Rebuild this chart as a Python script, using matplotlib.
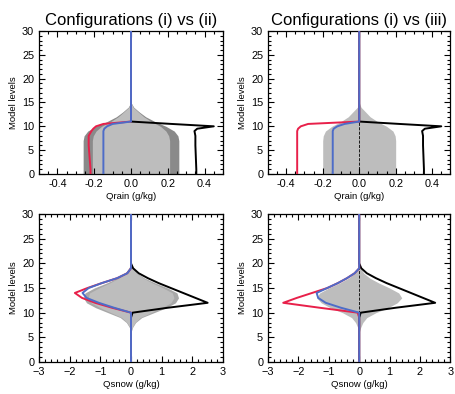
import matplotlib
matplotlib.use("Agg")
import matplotlib.pyplot as plt
from matplotlib.ticker import MultipleLocator

plt.rcParams['font.family'] = ['Liberation Sans', 'DejaVu Sans']

# rain profiles (g/kg) against model level
lev_rain = [0, 1, 2, 3, 4, 5, 6, 7, 8, 9, 9.5, 10, 10.5, 11, 30]
black_rain = [0.355, 0.355, 0.354, 0.353, 0.352, 0.351, 0.35, 0.35, 0.35, 0.345, 0.36, 0.45, 0.22, 0, 0]
red_ii_rain = [-0.22, -0.22, -0.222, -0.224, -0.226, -0.228, -0.23, -0.23, -0.23, -0.215, -0.205, -0.19, -0.15, 0, 0]
blue_ii_rain = [-0.15, -0.15, -0.15, -0.15, -0.15, -0.15, -0.15, -0.15, -0.15, -0.15, -0.145, -0.13, -0.1, 0, 0]
red_iii_rain = [-0.34, -0.34, -0.34, -0.34, -0.34, -0.34, -0.34, -0.34, -0.34, -0.34, -0.335, -0.32, -0.28, 0, 0]
blue_iii_rain = [-0.145, -0.145, -0.145, -0.145, -0.145, -0.145, -0.145, -0.145, -0.145, -0.145, -0.14, -0.12, -0.08, 0, 0]

# rain spread (half widths)
lev_env_rain = [0, 1, 2, 3, 4, 5, 6, 7, 8, 9, 10, 11, 12, 13, 14, 15]
dark_ii_rain = [0.26, 0.26, 0.26, 0.26, 0.26, 0.26, 0.26, 0.26, 0.255, 0.235, 0.19, 0.13, 0.08, 0.045, 0.015, 0]
light_ii_rain = [0.21, 0.21, 0.21, 0.21, 0.21, 0.21, 0.21, 0.21, 0.205, 0.19, 0.16, 0.11, 0.07, 0.04, 0.012, 0]
light_iii_rain = [0.2, 0.2, 0.2, 0.2, 0.2, 0.2, 0.2, 0.2, 0.197, 0.185, 0.15, 0.1, 0.06, 0.035, 0.01, 0]

# snow profiles
lev_snow = [0, 9, 10, 11, 12, 13, 14, 15, 16, 17, 18, 19, 20, 30]
black_snow = [0, 0, 0.05, 1.2, 2.5, 2.1, 1.7, 1.3, 0.9, 0.55, 0.25, 0.07, 0, 0]
red_ii_snow = [0, 0, 0, -0.62, -1.17, -1.6, -1.83, -1.42, -0.95, -0.45, -0.12, 0, 0, 0]
blue_ii_snow = [0, 0, 0, -0.55, -1.05, -1.45, -1.58, -1.38, -0.95, -0.45, -0.12, 0, 0, 0]
red_iii_snow = [0, 0, -0.05, -1.3, -2.5, -2.05, -1.55, -1.05, -0.7, -0.4, -0.15, 0, 0, 0]
blue_iii_snow = [0, 0, 0, -0.6, -1.1, -1.35, -1.4, -1.05, -0.7, -0.4, -0.15, 0, 0, 0]

lev_env_snow = [6, 7, 8, 9, 10, 11, 12, 13, 14, 15, 16, 17, 18, 19, 20]
dark_ii_snow = [0, 0.05, 0.15, 0.35, 0.75, 1.15, 1.45, 1.55, 1.5, 1.2, 0.8, 0.45, 0.2, 0.07, 0]
light_ii_snow = [0, 0.04, 0.13, 0.3, 0.65, 1.0, 1.3, 1.4, 1.35, 1.05, 0.7, 0.4, 0.18, 0.06, 0]
light_iii_snow = [0, 0.05, 0.12, 0.25, 0.55, 0.95, 1.25, 1.4, 1.3, 1.0, 0.65, 0.35, 0.15, 0.05, 0]

RED = '#e8204a'
BLUE = '#4d6cc8'
DARK = '#8a8a8a'
LIGHT = '#bdbdbd'

fig = plt.figure(figsize=(4.56, 3.94), dpi=100)
ax_tl = fig.add_axes([0.0855, 0.5584, 0.4035, 0.363])
ax_tr = fig.add_axes([0.5877, 0.5584, 0.4, 0.363])
ax_bl = fig.add_axes([0.0855, 0.0812, 0.4035, 0.3756])
ax_br = fig.add_axes([0.5877, 0.0812, 0.4, 0.3756])


def envelope(ax, lev, half, color):
    ax.fill_betweenx(lev, [-h for h in half], half, color=color, lw=0, zorder=1)


def style(ax, xlim, xmaj, xmin, xlabel, title=None):
    ax.set_xlim(*xlim)
    ax.set_ylim(0, 30)
    ax.xaxis.set_major_locator(MultipleLocator(xmaj))
    ax.xaxis.set_minor_locator(MultipleLocator(xmin))
    ax.yaxis.set_major_locator(MultipleLocator(5))
    ax.yaxis.set_minor_locator(MultipleLocator(1))
    ax.tick_params(which='both', direction='in', top=True, right=True, labelsize=7.8, width=0.8)
    ax.tick_params(which='major', length=4)
    ax.tick_params(which='minor', length=2)
    for s in ax.spines.values():
        s.set_linewidth(0.9)
    ax.set_xlabel(xlabel, fontsize=6.8, labelpad=2)
    ax.set_ylabel('Model levels', fontsize=6.8, labelpad=3)
    if title:
        ax.set_title(title, fontsize=12, pad=4)


# top left: rain, (i) vs (ii)
envelope(ax_tl, lev_env_rain, dark_ii_rain, DARK)
envelope(ax_tl, lev_env_rain, light_ii_rain, LIGHT)
ax_tl.plot(black_rain, lev_rain, color='k', lw=1.4, zorder=3)
ax_tl.plot(red_ii_rain, lev_rain, color=RED, lw=1.4, zorder=4)
ax_tl.plot(blue_ii_rain, lev_rain, color=BLUE, lw=1.4, zorder=5)
style(ax_tl, (-0.5, 0.5), 0.2, 0.05, 'Qrain (g/kg)', 'Configurations (i) vs (ii)')
ax_tl.set_xticklabels(['%.1f' % v for v in ax_tl.get_xticks()])

# top right: rain, (i) vs (iii)
envelope(ax_tr, lev_env_rain, light_iii_rain, LIGHT)
ax_tr.axvline(0, color='k', ls='--', lw=0.6, zorder=2)
ax_tr.plot(black_rain, lev_rain, color='k', lw=1.4, zorder=3)
ax_tr.plot(red_iii_rain, lev_rain, color=RED, lw=1.4, zorder=4)
ax_tr.plot(blue_iii_rain, lev_rain, color=BLUE, lw=1.4, zorder=5)
style(ax_tr, (-0.5, 0.5), 0.2, 0.05, 'Qrain (g/kg)', 'Configurations (i) vs (iii)')
ax_tr.set_xticklabels(['%.1f' % v for v in ax_tr.get_xticks()])

# bottom left: snow, (i) vs (ii)
envelope(ax_bl, lev_env_snow, dark_ii_snow, '#a8a8a8')
envelope(ax_bl, lev_env_snow, light_ii_snow, LIGHT)
ax_bl.plot(black_snow, lev_snow, color='k', lw=1.4, zorder=3)
ax_bl.plot(red_ii_snow, lev_snow, color=RED, lw=1.4, zorder=4)
ax_bl.plot(blue_ii_snow, lev_snow, color=BLUE, lw=1.4, zorder=5)
style(ax_bl, (-3, 3), 1, 0.2, 'Qsnow (g/kg)')

# bottom right: snow, (i) vs (iii)
envelope(ax_br, lev_env_snow, light_iii_snow, LIGHT)
ax_br.axvline(0, color='k', ls='--', lw=0.6, zorder=2)
ax_br.plot(black_snow, lev_snow, color='k', lw=1.4, zorder=3)
ax_br.plot(red_iii_snow, lev_snow, color=RED, lw=1.4, zorder=4)
ax_br.plot(blue_iii_snow, lev_snow, color=BLUE, lw=1.4, zorder=5)
style(ax_br, (-3, 3), 1, 0.2, 'Qsnow (g/kg)')

fig.savefig('out.png', dpi=100)
